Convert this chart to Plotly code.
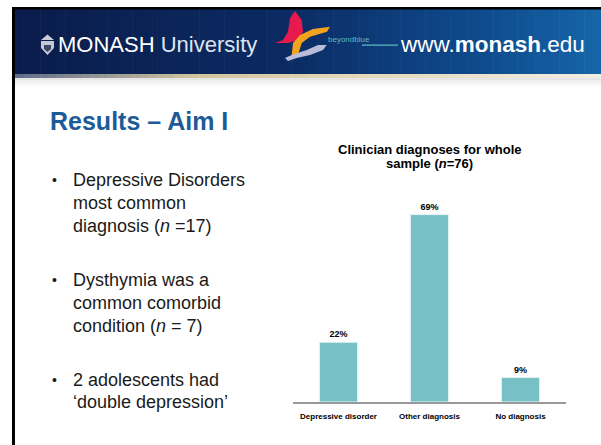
import plotly.graph_objects as go

# ---------------- data ----------------
categories = ["Depressive disorder", "Other diagnosis", "No diagnosis"]
percentages = [22, 69, 9]
chart_title_lines = ["Clinician diagnoses for whole", "sample (<i>n</i>=76)"]
slide_title = "Results – Aim I"
bullets = [
    ["Depressive Disorders", "most common", "diagnosis (<i>n</i> =17)"],
    ["Dysthymia was a", "common comorbid", "condition (<i>n</i> = 7)"],
    ["2 adolescents had", "‘double depression’"],
]

# ---------------- helpers ----------------
W, H = 601, 445
FONT = "Liberation Sans, Arial, Helvetica, sans-serif"


def px(x):
    return x / W


def py(y):
    return 1 - y / H


def lerp_color(c1, c2, t):
    a = [int(c1[i:i + 2], 16) for i in (1, 3, 5)]
    b = [int(c2[i:i + 2], 16) for i in (1, 3, 5)]
    return "#%02x%02x%02x" % tuple(round(a[k] + (b[k] - a[k]) * t) for k in range(3))


def multi_stop(stops, t):
    for i in range(len(stops) - 1):
        t0, c0 = stops[i]
        t1, c1 = stops[i + 1]
        if t <= t1:
            return lerp_color(c0, c1, (t - t0) / (t1 - t0) if t1 > t0 else 0)
    return stops[-1][1]


shapes = []


def rect(x0, y0, x1, y1, color, layer="below"):
    shapes.append(dict(type="rect", xref="paper", yref="paper",
                       x0=px(x0), x1=px(x1), y0=py(y1), y1=py(y0),
                       fillcolor=color, line=dict(width=0), layer=layer))


def path(points, color, layer="above"):
    d = "M " + " L ".join(f"{px(x):.5f},{py(y):.5f}" for x, y in points) + " Z"
    shapes.append(dict(type="path", xref="paper", yref="paper", path=d,
                       fillcolor=color, line=dict(width=0), layer=layer))


# ---------------- header band ----------------
blue_stops = [(0.0, "#0a1c4b"), (0.45, "#0b2a62"), (0.8, "#0f4b8e"), (1.0, "#1566a8")]
sheen_stops = [(0.0, "#5d6c8c"), (0.3, "#cfc29c"), (0.55, "#e2d6b4"), (1.0, "#f1ede4")]
N = 70
x_start, x_end = 15, 601
for i in range(N):
    xa = x_start + (x_end - x_start) * i / N
    xb = x_start + (x_end - x_start) * (i + 1) / N + 0.6
    t = (i + 0.5) / N
    rect(xa, 9, xb, 74, multi_stop(blue_stops, t))
    rect(xa, 74, xb, 78, multi_stop(sheen_stops, t))
fade = ["#e6e6e6", "#eeeeee", "#f4f4f4", "#f9f9f9"]
for k, c in enumerate(fade):
    rect(15, 78 + 2 * k, 601, 80 + 2 * k, c)

# black frame lines
rect(12, 7, 601, 9.5, "#000000", layer="above")
rect(12, 7, 15, 445, "#000000", layer="above")

# crest icon
path([(41, 40), (47.5, 34.5), (54, 40)], "#c9ceda")
path([(41, 41), (54, 41), (54, 48), (47.5, 55), (41, 48)], "#c3c8d4")
path([(44, 45), (51, 45), (51, 49), (47.5, 52), (44, 49)], "#3a4668")

# butterfly logo
path([(295, 11), (301.7, 20), (303, 31.7), (298, 40), (288, 43), (275, 43),
      (283, 40), (288, 31.7), (290, 18)], "#e8194c")
path([(330, 26.7), (327, 31.7), (310, 36.7), (301.7, 43), (298, 55), (295, 58),
      (291.7, 55), (293, 43), (300, 35), (313, 29)], "#f5a21c")
path([(326.7, 45), (323, 50), (310, 55), (296.7, 58), (288, 61), (285, 58),
      (291.7, 55), (306.7, 50), (318, 45)], "#b9bdd9")
rect(362, 44.5, 398, 45.8, "#5bbac2", layer="above")

# ---------------- figure ----------------
fig = go.Figure()
fig.add_trace(go.Bar(
    x=categories, y=percentages,
    marker=dict(color="#76c0c6", line=dict(color="#e6f3f4", width=1)),
    text=[f"{v}%" for v in percentages], textposition="outside",
    textfont=dict(size=9, color="#000000", family=FONT, weight="bold"),
    cliponaxis=False, hoverinfo="skip",
))

annotations = []


def note(x, y, text, size, color, xanchor="left", weight="normal"):
    annotations.append(dict(xref="paper", yref="paper", x=px(x), y=py(y),
                            text=text, showarrow=False, xanchor=xanchor,
                            yanchor="middle", align="center" if xanchor == "center" else "left",
                            font=dict(family=FONT, size=size, color=color, weight=weight)))


# header texts
note(56, 44, "MONASH <span style='color:#dfe5ef'>University</span>", 22, "#ffffff")
note(398, 44, "www.<b>monash</b>.edu", 22.5, "#ffffff")
note(326, 39, "beyondblue", 8, "#5bbac2")

# slide title
note(48, 121, slide_title, 25, "#1c5b97", weight="bold")

# bullets
line_centers = [[180, 203, 226], [280, 303, 326], [380, 402]]
for lines, ys in zip(bullets, line_centers):
    note(50, ys[0], "•", 14, "#1a1a1a")
    for text, yy in zip(lines, ys):
        note(71, yy, text, 18, "#1a1a1a")

# chart title (two lines, tight spacing)
note(429, 149, chart_title_lines[0], 13, "#000000", xanchor="center", weight="bold")
note(429, 164, chart_title_lines[1], 13, "#000000", xanchor="center", weight="bold")

fig.update_layout(
    width=W, height=H,
    margin=dict(l=0, r=0, t=0, b=0),
    paper_bgcolor="#ffffff", plot_bgcolor="rgba(0,0,0,0)",
    showlegend=False, bargap=0.58,
    shapes=shapes, annotations=annotations,
    xaxis=dict(domain=[px(293), px(566)], showline=True, linecolor="#9a9a9a",
               linewidth=2, ticks="outside", ticklen=5, tickcolor="rgba(0,0,0,0)",
               tickfont=dict(family=FONT, size=8, color="#000000", weight="bold"),
               showgrid=False, zeroline=False, fixedrange=True),
    yaxis=dict(domain=[py(402), py(184.7)], range=[0, 80], visible=False,
               fixedrange=True),
)

fig.write_html(
    "out.html",
    config={"displayModeBar": False},
    post_script="document.body.style.margin='0';document.body.style.padding='0';"
                "document.body.style.overflow='hidden';",
)
